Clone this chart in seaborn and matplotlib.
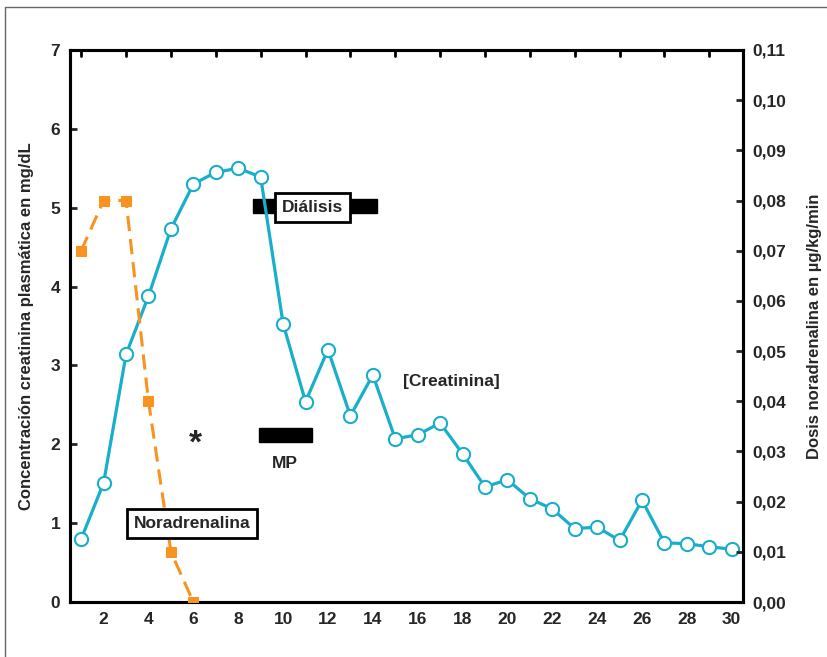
import numpy as np
import pandas as pd
import matplotlib
matplotlib.use('Agg')
import matplotlib.pyplot as plt
import seaborn as sns
from matplotlib.patches import Rectangle
from matplotlib.lines import Line2D

# datos
dias = list(range(1, 31))
creatinina = [0.80, 1.51, 3.14, 3.88, 4.73, 5.30, 5.45, 5.50, 5.39, 3.53,
              2.54, 3.20, 2.36, 2.88, 2.07, 2.12, 2.27, 1.88, 1.46, 1.55,
              1.31, 1.18, 0.93, 0.95, 0.78, 1.29, 0.75, 0.74, 0.70, 0.67]
dias_nora = [1, 2, 3, 4, 5, 6]
noradrenalina = [0.070, 0.080, 0.080, 0.040, 0.010, 0.000]

xticks_abajo = list(range(2, 31, 2))
xticks_arriba = list(range(1, 30, 2))
yticks_izq = list(range(0, 8))
yticks_der = [i / 100 for i in range(0, 12)]

df_crea = pd.DataFrame({'dia': dias, 'creatinina': creatinina})
df_nora = pd.DataFrame({'dia': dias_nora, 'noradrenalina': noradrenalina})

sns.set_style('white')
plt.rcParams['font.family'] = ['Liberation Sans', 'DejaVu Sans']
plt.rcParams['font.weight'] = 'bold'

CIAN = '#19AECA'
NARANJA = '#F7931E'

fig = plt.figure(figsize=(8.27, 6.57), dpi=100)
ax = fig.add_axes([0.0846, 0.0837, 0.8138, 0.8402])
ax2 = ax.twinx()

sns.lineplot(data=df_crea, x='dia', y='creatinina', ax=ax, color=CIAN, lw=2.3,
             marker='o', markersize=9.5, markerfacecolor='white',
             markeredgecolor=CIAN, markeredgewidth=1.5, zorder=3)
sns.lineplot(data=df_nora, x='dia', y='noradrenalina', ax=ax2, color=NARANJA, lw=2.2,
             marker='s', markersize=7.5, markerfacecolor=NARANJA,
             markeredgecolor=NARANJA, zorder=3)
ax2.lines[0].set_dashes([5, 2.6])

ax.set_xlim(0.5, 30.5)
ax.set_ylim(0, 7)
ax2.set_ylim(0, 0.11)

ax.set_xticks(xticks_abajo)
ax.set_yticks(yticks_izq)
ax2.set_yticks(yticks_der)
ax2.set_yticklabels([f'{v:.2f}'.replace('.', ',') for v in yticks_der])

for a in (ax, ax2):
    for s in a.spines.values():
        s.set_linewidth(2.2)
        s.set_color('black')
ax.tick_params(axis='both', direction='in', length=5, width=2, labelsize=12.5, pad=7)
ax2.tick_params(axis='y', direction='in', length=5, width=2, labelsize=12.5, pad=7)
ax.set_xlabel('')
ax.set_ylabel('Concentración creatinina plasmática en mg/dL', fontsize=12,
              fontweight='bold', labelpad=12)
ax2.set_ylabel('Dosis noradrenalina en µg/kg/min', fontsize=12,
               fontweight='bold', labelpad=15)

# marcas superiores en los días impares
for xv in xticks_arriba:
    ax.plot([xv, xv], [7, 7 - 0.07], color='black', lw=2, clip_on=False, zorder=5)

# barras de diálisis y MP
ax.add_patch(Rectangle((8.65, 4.93), 14.2 - 8.65, 0.18, color='black', zorder=2))
ax.add_patch(Rectangle((8.92, 2.03), 11.29 - 8.92, 0.18, color='black', zorder=2))

caja = dict(boxstyle='square,pad=0.4', facecolor='white', edgecolor='black', lw=2)
ax.text(11.33, 5.0, 'Diálisis', ha='center', va='center', fontsize=12.5,
        fontweight='bold', bbox=caja, zorder=6)
ax2.text(5.95, 1.0, 'Noradrenalina', ha='center', va='center', fontsize=12.5,
         fontweight='bold', bbox=caja, zorder=6, transform=ax.transData)
ax.text(10.08, 1.76, 'MP', ha='center', va='center', fontsize=12.5, fontweight='bold')
ax.text(15.35, 2.80, '[Creatinina]', ha='left', va='center', fontsize=12.5,
        fontweight='bold')
ax.text(6.1, 2.0, '*', ha='center', va='center', fontsize=24, fontweight='bold')

# marco de la figura
fig.add_artist(Line2D([5 / 827, 5 / 827], [0, 1 - 7 / 657], color='#666666', lw=1))
fig.add_artist(Line2D([5 / 827, 1], [1 - 7 / 657, 1 - 7 / 657], color='#666666', lw=1))

fig.savefig('out.png', dpi=100)
